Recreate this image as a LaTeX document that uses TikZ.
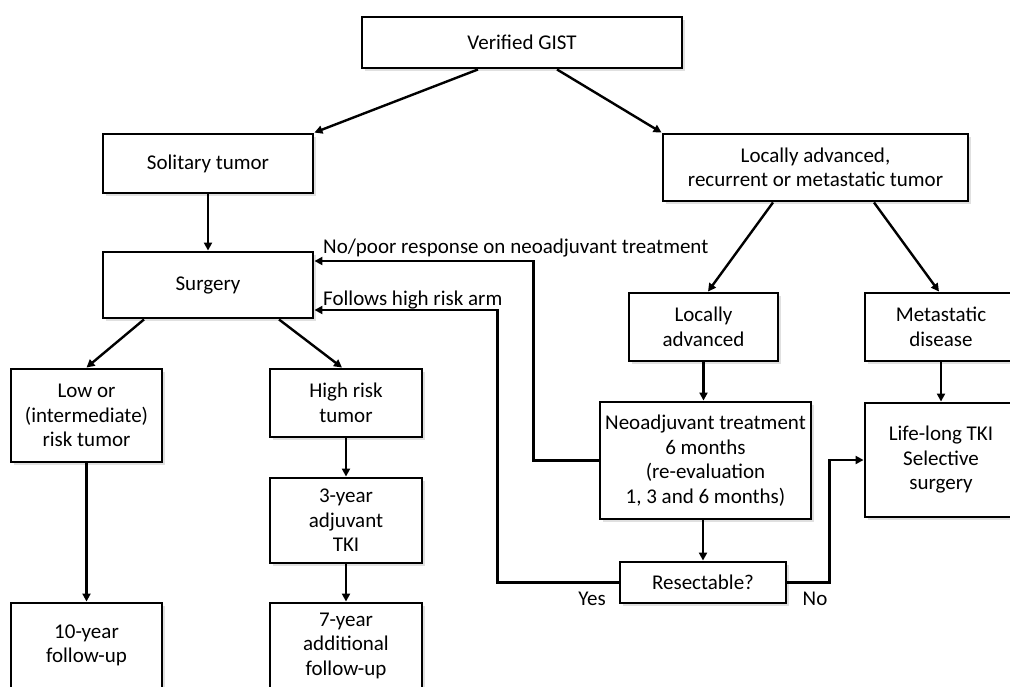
\documentclass[tikz,border=0pt]{standalone}
\usepackage{fontspec}
\setmainfont{Carlito}
\usetikzlibrary{arrows.meta,shadows}
\begin{document}
\begin{tikzpicture}[x=1pt,y=-1pt,
  box/.style={draw=black, line width=2.9pt, fill=white, inner sep=0pt, align=center,
    font=\fontsize{21}{24.5}\selectfont,
    drop shadow={shadow xshift=2.5pt, shadow yshift=-2.5pt, opacity=0.2, fill=black!60}},
  arr/.style={line width=2.4pt, -{Triangle[length=8pt,width=8pt]}},
  lbl/.style={inner sep=0pt, font=\fontsize{21}{24.5}\selectfont}]
\useasboundingbox (0,0) rectangle (1010,686);
\clip (0,0) rectangle (1010,686);
% nodes
\node[box, minimum width=320, minimum height=51] (gist) at (522,42.5) {Verified GIST};
\node[box, minimum width=210, minimum height=59] (sol) at (208,163.5) {Solitary tumor};
\node[box, minimum width=305, minimum height=67] (lar) at (815.5,167.5) {Locally advanced,\\recurrent or metastatic tumor};
\node[box, minimum width=210, minimum height=66] (surg) at (208,285) {Surgery};
\node[box, minimum width=149, minimum height=68] (la) at (703.5,327) {Locally\\advanced};
\node[box, minimum width=152, minimum height=68] (meta) at (941,327) {Metastatic\\disease};
\node[box, minimum width=151, minimum height=93] (low) at (86.5,415.5) {Low or\\(intermediate)\\risk tumor};
\node[box, minimum width=152, minimum height=68] (high) at (346,403) {High risk\\tumor};
\node[box, minimum width=152, minimum height=85] (tki) at (346,520.5) {3-year\\adjuvant\\TKI};
\node[box, minimum width=211, minimum height=117] (neo) at (705.5,460.5) {Neoadjuvant treatment\\6 months\\(re-evaluation\\1, 3 and 6 months)};
\node[box, minimum width=152, minimum height=114] (life) at (941,460) {Life-long TKI\\Selective\\surgery};
\node[box, minimum width=166, minimum height=41] (res) at (703,582.5) {Resectable?};
\node[box, minimum width=151, minimum height=85] (ten) at (86.5,645.5) {10-year\\follow-up};
\node[box, minimum width=152, minimum height=85] (seven) at (346,645.5) {7-year\\additional\\follow-up};
% labels
\node[lbl, anchor=base west] (lnopoor) at (323,253) {No/poor response on neoadjuvant treatment};
\node[lbl, anchor=base west] (lfollow) at (323,305) {Follows high risk arm};
\node[lbl, anchor=base] (lyes) at (592,605) {Yes};
\node[lbl, anchor=base] (lno) at (815,605) {No};
% connectors
\draw[arr] ([xshift=-44pt]gist.south) -- (sol.north east);
\draw[arr] ([xshift=35pt]gist.south) -- (lar.north west);
\draw[arr] (sol.south) -- (surg.north);
\draw[arr] ([xshift=-64pt]surg.south) -- (low.north);
\draw[arr] ([xshift=71pt]surg.south) -- ([xshift=-4pt]high.north);
\draw[arr] ([xshift=-42.5pt]lar.south) -- ([xshift=4.5pt]la.north);
\draw[arr] ([xshift=58.5pt]lar.south) -- ([xshift=-2pt]meta.north);
\draw[arr] (low.south) -- (ten.north);
\draw[arr] (high.south) -- (tki.north);
\draw[arr] (tki.south) -- (seven.north);
\draw[arr] (la.south) -- (la.south |- neo.north);
\draw[arr] (neo.south -| res.north) -- (res.north);
\draw[arr] (meta.south) -- (life.north);
\draw[arr] (neo.west) -- ++(-65,0) |- ([yshift=24pt]surg.east);
\draw[arr] (res.west) -- ++(-121,0) |- ([yshift=-25pt]surg.east);
\draw[arr] (res.east) -- ++(42,0) |- (life.west);
\end{tikzpicture}
\end{document}
